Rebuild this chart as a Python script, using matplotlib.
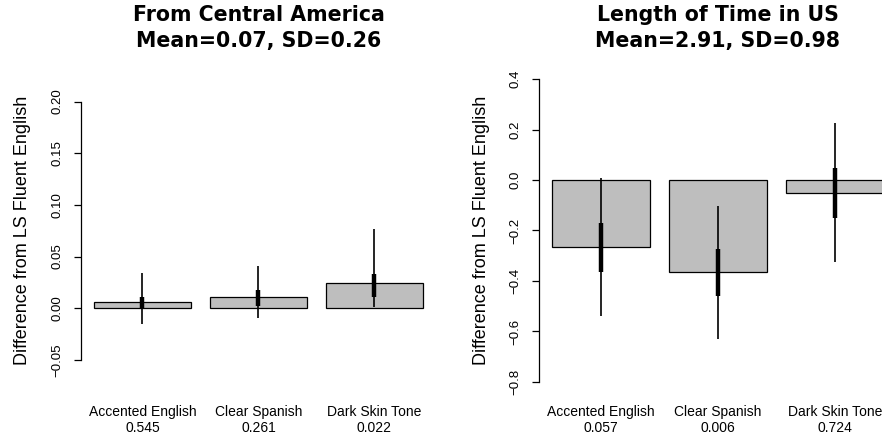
import matplotlib.pyplot as plt
import numpy as np

plt.rcParams['font.family'] = ['Liberation Sans', 'DejaVu Sans']

# Categories and p-values shown under the bars
categories = ["Accented English", "Clear Spanish", "Dark Skin Tone"]
pvals_ca = ["0.545", "0.261", "0.022"]
pvals_time = ["0.057", "0.006", "0.724"]

# From Central America
est_ca = [0.0058, 0.0106, 0.0248]
lo95_ca = [-0.0155, -0.0097, 0.0015]
hi95_ca = [0.0344, 0.0409, 0.0767]
lo68_ca = [-0.0010, 0.0022, 0.0106]
hi68_ca = [0.0112, 0.0177, 0.0332]
yticks_ca = [-0.05, 0.00, 0.05, 0.10, 0.15, 0.20]

# Length of Time in US
est_time = [-0.267, -0.364, -0.050]
lo95_time = [-0.537, -0.631, -0.3235]
hi95_time = [0.009, -0.103, 0.2245]
lo68_time = [-0.366, -0.458, -0.152]
hi68_time = [-0.169, -0.274, 0.0487]
yticks_time = [-0.8, -0.6, -0.4, -0.2, 0.0, 0.2, 0.4]

titles = ["From Central America\nMean=0.07, SD=0.26",
          "Length of Time in US\nMean=2.91, SD=0.98"]

W, H = 882, 440
fig = plt.figure(figsize=(W / 100, H / 100), dpi=100)


def px_axes(x0, x1, y0, y1):
    # pixel box (from top-left) -> figure fraction
    return fig.add_axes([x0 / W, 1 - y1 / H, (x1 - x0) / W, (y1 - y0) / H])


ax1 = px_axes(80.9, 436.0, 66.9, 394.1)
ax2 = px_axes(538.7, 897.0, 66.9, 394.1)

panels = [
    (ax1, est_ca, lo95_ca, hi95_ca, lo68_ca, hi68_ca, pvals_ca,
     (-0.083, 0.2335), yticks_ca, "%.2f", -58 / 355.1),
    (ax2, est_time, lo95_time, hi95_time, lo68_time, hi68_time, pvals_time,
     (-0.848, 0.448), yticks_time, "%.1f", -57.7 / 358.3),
]

xpos = 0.7 + 1.2 * np.arange(len(categories))

for i, (ax, est, lo95, hi95, lo68, hi68, pv, ylim, yt, fmt, labx) in enumerate(panels):
    ax.bar(xpos, est, width=1.0, color="#bebebe", edgecolor="black",
           linewidth=0.9, zorder=2)
    ax.vlines(xpos, lo95, hi95, color="black", linewidth=1.2, zorder=3)
    ax.vlines(xpos, lo68, hi68, color="black", linewidth=3.2, zorder=4)

    ax.set_xlim(0.064, 3.736)
    ax.set_ylim(*ylim)

    for s in ["top", "right", "bottom"]:
        ax.spines[s].set_visible(False)
    ax.spines["left"].set_bounds(yt[0], yt[-1])
    ax.spines["left"].set_linewidth(0.9)

    ax.set_yticks(yt)
    ax.set_yticklabels([(fmt % v).replace("-", "\u2212") for v in yt],
                       rotation=90, va="center", fontsize=9.5)
    ax.tick_params(axis="y", length=5.3, width=0.9, pad=7)

    ax.set_xticks(xpos)
    ax.set_xticklabels([c + "\n" + p for c, p in zip(categories, pv)],
                       fontsize=10, linespacing=1.2)
    ax.tick_params(axis="x", length=0, pad=8)

    ax.set_ylabel("Difference from LS Fluent English", fontsize=13, va="center")
    ax.yaxis.set_label_coords(labx, 0.5)

    ax.set_title(titles[i], fontsize=14.8, fontweight="bold",
                 family="DejaVu Sans", pad=14, linespacing=1.42)

fig.savefig("out.png", dpi=100)
